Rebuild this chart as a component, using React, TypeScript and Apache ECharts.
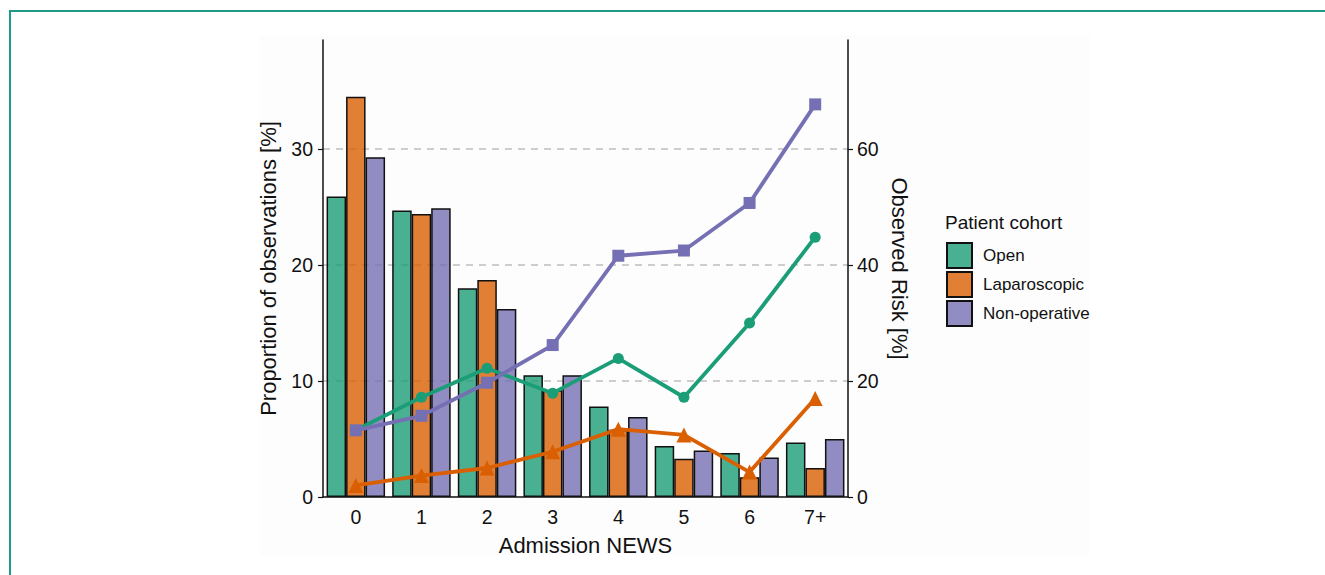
import React, { useEffect, useRef } from "react";
import * as echarts from "echarts";

const categories = ["0", "1", "2", "3", "4", "5", "6", "7+"];
const seriesNames = ["Open", "Laparoscopic", "Non-operative"];
// Proportion of observations [%] (bars, left axis)
const openProportion = [25.9, 24.7, 18.0, 10.5, 7.8, 4.4, 3.8, 4.7];
const lapProportion = [34.5, 24.4, 18.7, 9.2, 5.8, 3.3, 1.7, 2.5];
const nonOpProportion = [29.3, 24.9, 16.2, 10.5, 6.9, 4.0, 3.4, 5.0];
// Observed risk [%] (lines, right axis)
const openRisk = [11.5, 17.2, 22.2, 17.9, 23.9, 17.2, 30.0, 44.8];
const lapRisk = [2.0, 3.7, 5.0, 7.8, 11.7, 10.7, 4.3, 17.0];
const nonOpRisk = [11.5, 14.0, 19.7, 26.2, 41.6, 42.5, 50.7, 67.7];
const leftTicks = [0, 10, 20, 30];
const rightTicks = [0, 20, 40, 60];

const barColors = ["rgba(27,158,119,0.8)", "rgba(217,95,2,0.8)", "rgba(117,112,179,0.8)"];
const lineColors = ["#1b9e77", "#d95f02", "#7570b3"];
const symbols = ["circle", "triangle", "rect"];
const symbolSizes = [11, 15, 12];

export default function App() {
  const ref = useRef<HTMLDivElement>(null);
  useEffect(() => {
    if (!ref.current) return;
    const chart = echarts.init(ref.current, null, { renderer: "svg" });
    const barData = [openProportion, lapProportion, nonOpProportion];
    const lineData = [openRisk, lapRisk, nonOpRisk];
    const font = "Liberation Sans, Arial, sans-serif";
    const series: any[] = [];
    seriesNames.forEach((name, i) => {
      series.push({
        type: "bar",
        name,
        yAxisIndex: 0,
        data: barData[i],
        barWidth: 19.5,
        barGap: "0%",
        z: 2,
        itemStyle: { color: barColors[i], borderColor: "#111", borderWidth: 1.5 },
      });
    });
    seriesNames.forEach((name, i) => {
      series.push({
        type: "line",
        name,
        yAxisIndex: 1,
        data: lineData[i],
        z: 3,
        symbol: symbols[i],
        symbolSize: symbolSizes[i],
        showSymbol: true,
        lineStyle: { color: lineColors[i], width: 3.8 },
        itemStyle: { color: lineColors[i] },
      });
    });
    chart.setOption({
      animation: false,
      textStyle: { fontFamily: font },
      graphic: [
        { type: "rect", z: -10, shape: { x: 260, y: 35, width: 830, height: 520 }, style: { fill: "#fdfdfd" } },
        { type: "rect", z: 100, shape: { x: 10, y: 11, width: 1400, height: 700 }, style: { fill: "none", stroke: "#1f9a8a", lineWidth: 2 } },
      ],
      title: {
        text: "Patient cohort",
        left: 945,
        top: 213,
        padding: 0,
        textStyle: { fontSize: 19, fontWeight: "normal", color: "#111", fontFamily: font },
      },
      legend: {
        data: seriesNames.map((n) => ({ name: n, icon: "rect" })),
        orient: "vertical",
        left: 946,
        top: 242,
        padding: 0,
        itemWidth: 25,
        itemHeight: 25,
        itemGap: 2,
        selectedMode: false,
        textStyle: { fontSize: 17, color: "#111", fontFamily: font, padding: [0, 0, 0, 6] },
      },
      grid: { left: 323, top: 40, width: 525, height: 457, containLabel: false },
      xAxis: {
        type: "category",
        data: categories,
        name: "Admission NEWS",
        nameLocation: "middle",
        nameGap: 37,
        nameTextStyle: { fontSize: 22, color: "#111", fontFamily: font },
        axisLine: { lineStyle: { color: "#111", width: 1.5 } },
        axisTick: { alignWithLabel: true, length: 5, lineStyle: { color: "#111", width: 1.2 } },
        axisLabel: { fontSize: 19.5, color: "#111", margin: 10, fontFamily: font },
      },
      yAxis: [
        {
          type: "value",
          min: 0,
          max: 39.4,
          interval: 10,
          name: "Proportion of observations [%]",
          nameLocation: "middle",
          nameGap: 44,
          nameRotate: 90,
          nameTextStyle: { fontSize: 22, color: "#111", fontFamily: font },
          axisLine: { show: true, lineStyle: { color: "#111", width: 1.5 } },
          axisTick: { show: true, length: 5, lineStyle: { color: "#111", width: 1.2 } },
          axisLabel: {
            fontSize: 19.5,
            color: "#111",
            margin: 10,
            fontFamily: font,
            showMaxLabel: false,
            formatter: (v: number) => (leftTicks.includes(v) ? String(v) : ""),
          },
          splitLine: { show: true, showMinLine: false, showMaxLine: false, lineStyle: { color: "#bdbdbd", type: [7, 6], width: 1.5 } },
        },
        {
          type: "value",
          min: 0,
          max: 78.8,
          interval: 20,
          position: "right",
          name: "Observed Risk [%]",
          nameLocation: "middle",
          nameGap: 40,
          nameRotate: -90,
          nameTextStyle: { fontSize: 22, color: "#111", fontFamily: font },
          axisLine: { show: true, lineStyle: { color: "#111", width: 1.5 } },
          axisTick: { show: true, length: 5, lineStyle: { color: "#111", width: 1.2 } },
          axisLabel: {
            fontSize: 19.5,
            color: "#111",
            margin: 9,
            fontFamily: font,
            showMaxLabel: false,
            formatter: (v: number) => (rightTicks.includes(v) ? String(v) : ""),
          },
          splitLine: { show: false },
        },
      ],
      series,
    });
    return () => chart.dispose();
  }, []);
  return (
    <div
      ref={ref}
      style={{ position: "fixed", left: 0, top: 0, width: 1325, height: 575, background: "#fff" }}
    />
  );
}
